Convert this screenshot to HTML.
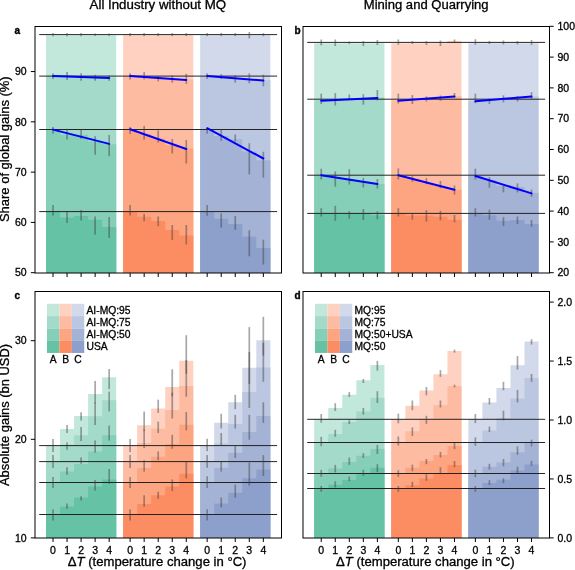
<!DOCTYPE html>
<html><head><meta charset="utf-8"><style>
html,body{margin:0;padding:0;background:#fff;}
body{width:575px;height:570px;overflow:hidden;}
svg{display:block;will-change:transform;font-family:"Liberation Sans",sans-serif;}
.tk{font-size:10.5px;fill:#000;stroke:#000;stroke-width:0.3px;}
.tt{font-size:12.5px;fill:#000;stroke:#000;stroke-width:0.3px;}
.pl{font-size:10px;font-weight:bold;fill:#000;stroke:#000;stroke-width:0.35px;}
.lg{font-size:10.3px;fill:#000;stroke:#000;stroke-width:0.3px;}
</style></head><body>
<svg width="575" height="570" viewBox="0 0 575 570">
<rect width="575" height="570" fill="#fff"/>
<g>
<polygon fill="#c2e7db" points="46,273 46,35.3 60.04,35.3 60.04,35.3 74.08,35.3 74.08,35.3 88.12,35.3 88.12,35.3 102.16,35.3 102.16,35.3 116.2,35.3 116.2,273"/>
<polygon fill="#a3dac9" points="46,273 46,76 60.04,76 60.04,76.3 74.08,76.3 74.08,76.7 88.12,76.7 88.12,77 102.16,77 102.16,77.5 116.2,77.5 116.2,273"/>
<polygon fill="#85ceb7" points="46,273 46,129.8 60.04,129.8 60.04,134.7 74.08,134.7 74.08,134.7 88.12,134.7 88.12,141.4 102.16,141.4 102.16,144.3 116.2,144.3 116.2,273"/>
<polygon fill="#66c2a5" points="46,273 46,212 60.04,212 60.04,217.6 74.08,217.6 74.08,216.1 88.12,216.1 88.12,219.8 102.16,219.8 102.16,227 116.2,227 116.2,273"/>
<polygon fill="#fed1c0" points="123.1,273 123.1,35.3 137.14,35.3 137.14,35.3 151.18,35.3 151.18,35.3 165.22,35.3 165.22,35.3 179.26,35.3 179.26,35.3 193.3,35.3 193.3,273"/>
<polygon fill="#fdbba1" points="123.1,273 123.1,76 137.14,76 137.14,76.8 151.18,76.8 151.18,77.6 165.22,77.6 165.22,78.5 179.26,78.5 179.26,79.4 193.3,79.4 193.3,273"/>
<polygon fill="#fda481" points="123.1,273 123.1,129.6 137.14,129.6 137.14,134 151.18,134 151.18,138.5 165.22,138.5 165.22,145.3 179.26,145.3 179.26,148.7 193.3,148.7 193.3,273"/>
<polygon fill="#fc8d62" points="123.1,273 123.1,212 137.14,212 137.14,216.8 151.18,216.8 151.18,221 165.22,221 165.22,230 179.26,230 179.26,235.5 193.3,235.5 193.3,273"/>
<polygon fill="#d1d9ea" points="200.15,273 200.15,35.3 214.19,35.3 214.19,35.3 228.23,35.3 228.23,35.3 242.27,35.3 242.27,35.3 256.31,35.3 256.31,35.3 270.35,35.3 270.35,273"/>
<polygon fill="#bbc6e0" points="200.15,273 200.15,76.2 214.19,76.2 214.19,77.2 228.23,77.2 228.23,78.2 242.27,78.2 242.27,79.2 256.31,79.2 256.31,80.2 270.35,80.2 270.35,273"/>
<polygon fill="#a4b3d5" points="200.15,273 200.15,129 214.19,129 214.19,136 228.23,136 228.23,139.2 242.27,139.2 242.27,151.4 256.31,151.4 256.31,160.2 270.35,160.2 270.35,273"/>
<polygon fill="#8da0cb" points="200.15,273 200.15,212.1 214.19,212.1 214.19,218.7 228.23,218.7 228.23,224 242.27,224 242.27,236.6 256.31,236.6 256.31,248 270.35,248 270.35,273"/>
<line x1="39.2" y1="34.6" x2="277.1" y2="34.6" stroke="#1a1a1a" stroke-width="0.95"/>
<line x1="39.2" y1="76.1" x2="277.1" y2="76.1" stroke="#1a1a1a" stroke-width="0.95"/>
<line x1="39.2" y1="129.5" x2="277.1" y2="129.5" stroke="#1a1a1a" stroke-width="0.95"/>
<line x1="39.2" y1="211.6" x2="277.1" y2="211.6" stroke="#1a1a1a" stroke-width="0.95"/>
<line x1="53.02" y1="33" x2="53.02" y2="36.2" stroke="rgba(60,60,60,0.45)" stroke-width="1.7"/>
<line x1="53.02" y1="73.3" x2="53.02" y2="79" stroke="rgba(60,60,60,0.45)" stroke-width="1.7"/>
<line x1="53.02" y1="127" x2="53.02" y2="133.7" stroke="rgba(60,60,60,0.45)" stroke-width="1.7"/>
<line x1="53.02" y1="204.9" x2="53.02" y2="215.6" stroke="rgba(60,60,60,0.45)" stroke-width="1.7"/>
<line x1="67.06" y1="33" x2="67.06" y2="36.2" stroke="rgba(60,60,60,0.45)" stroke-width="1.7"/>
<line x1="67.06" y1="72.1" x2="67.06" y2="79.9" stroke="rgba(60,60,60,0.45)" stroke-width="1.7"/>
<line x1="67.06" y1="128.8" x2="67.06" y2="139.6" stroke="rgba(60,60,60,0.45)" stroke-width="1.7"/>
<line x1="67.06" y1="211.6" x2="67.06" y2="223.1" stroke="rgba(60,60,60,0.45)" stroke-width="1.7"/>
<line x1="81.1" y1="33" x2="81.1" y2="36.2" stroke="rgba(60,60,60,0.45)" stroke-width="1.7"/>
<line x1="81.1" y1="73.3" x2="81.1" y2="80.8" stroke="rgba(60,60,60,0.45)" stroke-width="1.7"/>
<line x1="81.1" y1="129.3" x2="81.1" y2="138.7" stroke="rgba(60,60,60,0.45)" stroke-width="1.7"/>
<line x1="81.1" y1="210.1" x2="81.1" y2="220.6" stroke="rgba(60,60,60,0.45)" stroke-width="1.7"/>
<line x1="95.14" y1="33.5" x2="95.14" y2="36" stroke="rgba(60,60,60,0.45)" stroke-width="1.7"/>
<line x1="95.14" y1="74.7" x2="95.14" y2="80.8" stroke="rgba(60,60,60,0.45)" stroke-width="1.7"/>
<line x1="95.14" y1="136.2" x2="95.14" y2="154.7" stroke="rgba(60,60,60,0.45)" stroke-width="1.7"/>
<line x1="95.14" y1="216.5" x2="95.14" y2="234.4" stroke="rgba(60,60,60,0.45)" stroke-width="1.7"/>
<line x1="109.18" y1="33.5" x2="109.18" y2="36" stroke="rgba(60,60,60,0.45)" stroke-width="1.7"/>
<line x1="109.18" y1="75.4" x2="109.18" y2="80.8" stroke="rgba(60,60,60,0.45)" stroke-width="1.7"/>
<line x1="109.18" y1="135" x2="109.18" y2="156.2" stroke="rgba(60,60,60,0.45)" stroke-width="1.7"/>
<line x1="109.18" y1="217.1" x2="109.18" y2="238" stroke="rgba(60,60,60,0.45)" stroke-width="1.7"/>
<line x1="130.12" y1="33" x2="130.12" y2="36.2" stroke="rgba(60,60,60,0.45)" stroke-width="1.7"/>
<line x1="130.12" y1="73.3" x2="130.12" y2="79.4" stroke="rgba(60,60,60,0.45)" stroke-width="1.7"/>
<line x1="130.12" y1="127" x2="130.12" y2="134" stroke="rgba(60,60,60,0.45)" stroke-width="1.7"/>
<line x1="130.12" y1="204.9" x2="130.12" y2="215.6" stroke="rgba(60,60,60,0.45)" stroke-width="1.7"/>
<line x1="144.16" y1="33" x2="144.16" y2="36.2" stroke="rgba(60,60,60,0.45)" stroke-width="1.7"/>
<line x1="144.16" y1="72.1" x2="144.16" y2="79.4" stroke="rgba(60,60,60,0.45)" stroke-width="1.7"/>
<line x1="144.16" y1="125.9" x2="144.16" y2="139.6" stroke="rgba(60,60,60,0.45)" stroke-width="1.7"/>
<line x1="144.16" y1="213.9" x2="144.16" y2="221.3" stroke="rgba(60,60,60,0.45)" stroke-width="1.7"/>
<line x1="158.2" y1="33" x2="158.2" y2="36.2" stroke="rgba(60,60,60,0.45)" stroke-width="1.7"/>
<line x1="158.2" y1="76" x2="158.2" y2="81.4" stroke="rgba(60,60,60,0.45)" stroke-width="1.7"/>
<line x1="158.2" y1="130.4" x2="158.2" y2="142.6" stroke="rgba(60,60,60,0.45)" stroke-width="1.7"/>
<line x1="158.2" y1="216.5" x2="158.2" y2="226.1" stroke="rgba(60,60,60,0.45)" stroke-width="1.7"/>
<line x1="172.24" y1="33" x2="172.24" y2="36.2" stroke="rgba(60,60,60,0.45)" stroke-width="1.7"/>
<line x1="172.24" y1="75.4" x2="172.24" y2="82.7" stroke="rgba(60,60,60,0.45)" stroke-width="1.7"/>
<line x1="172.24" y1="139" x2="172.24" y2="153.5" stroke="rgba(60,60,60,0.45)" stroke-width="1.7"/>
<line x1="172.24" y1="225" x2="172.24" y2="240" stroke="rgba(60,60,60,0.45)" stroke-width="1.7"/>
<line x1="186.28" y1="33" x2="186.28" y2="36.2" stroke="rgba(60,60,60,0.45)" stroke-width="1.7"/>
<line x1="186.28" y1="73.8" x2="186.28" y2="83.9" stroke="rgba(60,60,60,0.45)" stroke-width="1.7"/>
<line x1="186.28" y1="140" x2="186.28" y2="163.5" stroke="rgba(60,60,60,0.45)" stroke-width="1.7"/>
<line x1="186.28" y1="225" x2="186.28" y2="244.4" stroke="rgba(60,60,60,0.45)" stroke-width="1.7"/>
<line x1="207.17" y1="33" x2="207.17" y2="36.2" stroke="rgba(60,60,60,0.45)" stroke-width="1.7"/>
<line x1="207.17" y1="73.3" x2="207.17" y2="79" stroke="rgba(60,60,60,0.45)" stroke-width="1.7"/>
<line x1="207.17" y1="128.2" x2="207.17" y2="133.7" stroke="rgba(60,60,60,0.45)" stroke-width="1.7"/>
<line x1="207.17" y1="205" x2="207.17" y2="215.7" stroke="rgba(60,60,60,0.45)" stroke-width="1.7"/>
<line x1="221.21" y1="33" x2="221.21" y2="36.2" stroke="rgba(60,60,60,0.45)" stroke-width="1.7"/>
<line x1="221.21" y1="74.1" x2="221.21" y2="79" stroke="rgba(60,60,60,0.45)" stroke-width="1.7"/>
<line x1="221.21" y1="129.7" x2="221.21" y2="140.8" stroke="rgba(60,60,60,0.45)" stroke-width="1.7"/>
<line x1="221.21" y1="213.4" x2="221.21" y2="227.6" stroke="rgba(60,60,60,0.45)" stroke-width="1.7"/>
<line x1="235.25" y1="33" x2="235.25" y2="36.2" stroke="rgba(60,60,60,0.45)" stroke-width="1.7"/>
<line x1="235.25" y1="75.4" x2="235.25" y2="82.7" stroke="rgba(60,60,60,0.45)" stroke-width="1.7"/>
<line x1="235.25" y1="134.5" x2="235.25" y2="141.6" stroke="rgba(60,60,60,0.45)" stroke-width="1.7"/>
<line x1="235.25" y1="216" x2="235.25" y2="229.8" stroke="rgba(60,60,60,0.45)" stroke-width="1.7"/>
<line x1="249.29" y1="32" x2="249.29" y2="38.4" stroke="rgba(60,60,60,0.45)" stroke-width="1.7"/>
<line x1="249.29" y1="73.3" x2="249.29" y2="83.3" stroke="rgba(60,60,60,0.45)" stroke-width="1.7"/>
<line x1="249.29" y1="143.2" x2="249.29" y2="174.4" stroke="rgba(60,60,60,0.45)" stroke-width="1.7"/>
<line x1="249.29" y1="230.3" x2="249.29" y2="256.3" stroke="rgba(60,60,60,0.45)" stroke-width="1.7"/>
<line x1="263.33" y1="33" x2="263.33" y2="36.2" stroke="rgba(60,60,60,0.45)" stroke-width="1.7"/>
<line x1="263.33" y1="74.7" x2="263.33" y2="86.3" stroke="rgba(60,60,60,0.45)" stroke-width="1.7"/>
<line x1="263.33" y1="151.8" x2="263.33" y2="177.6" stroke="rgba(60,60,60,0.45)" stroke-width="1.7"/>
<line x1="263.33" y1="239.7" x2="263.33" y2="264.5" stroke="rgba(60,60,60,0.45)" stroke-width="1.7"/>
<line x1="53.02" y1="76" x2="109.18" y2="77.9" stroke="#0000ff" stroke-width="2.0" stroke-linecap="round"/>
<line x1="53.02" y1="129.6" x2="109.18" y2="143.9" stroke="#0000ff" stroke-width="2.0" stroke-linecap="round"/>
<line x1="130.12" y1="76" x2="186.28" y2="79.9" stroke="#0000ff" stroke-width="2.0" stroke-linecap="round"/>
<line x1="130.12" y1="129.2" x2="186.28" y2="149" stroke="#0000ff" stroke-width="2.0" stroke-linecap="round"/>
<line x1="207.17" y1="76" x2="263.33" y2="80.6" stroke="#0000ff" stroke-width="2.0" stroke-linecap="round"/>
<line x1="207.17" y1="128.2" x2="263.33" y2="158.5" stroke="#0000ff" stroke-width="2.0" stroke-linecap="round"/>
<rect x="35" y="26.5" width="246.5" height="246.5" fill="none" stroke="#000" stroke-width="1"/>
<line x1="53.02" y1="273" x2="53.02" y2="277" stroke="#000" stroke-width="1"/>
<line x1="67.06" y1="273" x2="67.06" y2="277" stroke="#000" stroke-width="1"/>
<line x1="81.1" y1="273" x2="81.1" y2="277" stroke="#000" stroke-width="1"/>
<line x1="95.14" y1="273" x2="95.14" y2="277" stroke="#000" stroke-width="1"/>
<line x1="109.18" y1="273" x2="109.18" y2="277" stroke="#000" stroke-width="1"/>
<line x1="130.12" y1="273" x2="130.12" y2="277" stroke="#000" stroke-width="1"/>
<line x1="144.16" y1="273" x2="144.16" y2="277" stroke="#000" stroke-width="1"/>
<line x1="158.2" y1="273" x2="158.2" y2="277" stroke="#000" stroke-width="1"/>
<line x1="172.24" y1="273" x2="172.24" y2="277" stroke="#000" stroke-width="1"/>
<line x1="186.28" y1="273" x2="186.28" y2="277" stroke="#000" stroke-width="1"/>
<line x1="207.17" y1="273" x2="207.17" y2="277" stroke="#000" stroke-width="1"/>
<line x1="221.21" y1="273" x2="221.21" y2="277" stroke="#000" stroke-width="1"/>
<line x1="235.25" y1="273" x2="235.25" y2="277" stroke="#000" stroke-width="1"/>
<line x1="249.29" y1="273" x2="249.29" y2="277" stroke="#000" stroke-width="1"/>
<line x1="263.33" y1="273" x2="263.33" y2="277" stroke="#000" stroke-width="1"/>
</g>
<g>
<polygon fill="#c2e7db" points="314.2,273 314.2,43.2 328.24,43.2 328.24,43.2 342.28,43.2 342.28,43.2 356.32,43.2 356.32,43.2 370.36,43.2 370.36,43.2 384.4,43.2 384.4,273"/>
<polygon fill="#a3dac9" points="314.2,273 314.2,100 328.24,100 328.24,99.4 342.28,99.4 342.28,98.8 356.32,98.8 356.32,98.2 370.36,98.2 370.36,97.6 384.4,97.6 384.4,273"/>
<polygon fill="#85ceb7" points="314.2,273 314.2,175.2 328.24,175.2 328.24,177.4 342.28,177.4 342.28,179.5 356.32,179.5 356.32,181.7 370.36,181.7 370.36,183.9 384.4,183.9 384.4,273"/>
<polygon fill="#66c2a5" points="314.2,273 314.2,213.4 328.24,213.4 328.24,213.4 342.28,213.4 342.28,213.4 356.32,213.4 356.32,213.4 370.36,213.4 370.36,215.3 384.4,215.3 384.4,273"/>
<polygon fill="#fed1c0" points="391.3,273 391.3,43.2 405.34,43.2 405.34,43.2 419.38,43.2 419.38,43.2 433.42,43.2 433.42,43.2 447.46,43.2 447.46,41.1 461.5,41.1 461.5,273"/>
<polygon fill="#fdbba1" points="391.3,273 391.3,100.5 405.34,100.5 405.34,99.4 419.38,99.4 419.38,98.2 433.42,98.2 433.42,97.1 447.46,97.1 447.46,96 461.5,96 461.5,273"/>
<polygon fill="#fda481" points="391.3,273 391.3,175.2 405.34,175.2 405.34,178.8 419.38,178.8 419.38,182.4 433.42,182.4 433.42,186.1 447.46,186.1 447.46,189.7 461.5,189.7 461.5,273"/>
<polygon fill="#fc8d62" points="391.3,273 391.3,213.4 405.34,213.4 405.34,215.6 419.38,215.6 419.38,215.6 433.42,215.6 433.42,216.8 447.46,216.8 447.46,219.7 461.5,219.7 461.5,273"/>
<polygon fill="#d1d9ea" points="468.35,273 468.35,43.2 482.39,43.2 482.39,43.2 496.43,43.2 496.43,43.2 510.47,43.2 510.47,43.2 524.51,43.2 524.51,43.2 538.55,43.2 538.55,273"/>
<polygon fill="#bbc6e0" points="468.35,273 468.35,100.8 482.39,100.8 482.39,99.7 496.43,99.7 496.43,98.7 510.47,98.7 510.47,97.6 524.51,97.6 524.51,96.5 538.55,96.5 538.55,273"/>
<polygon fill="#a4b3d5" points="468.35,273 468.35,176 482.39,176 482.39,180 496.43,180 496.43,185.8 510.47,185.8 510.47,187 524.51,187 524.51,192.9 538.55,192.9 538.55,273"/>
<polygon fill="#8da0cb" points="468.35,273 468.35,213.4 482.39,213.4 482.39,215.3 496.43,215.3 496.43,220.8 510.47,220.8 510.47,220 524.51,220 524.51,224 538.55,224 538.55,273"/>
<line x1="307.2" y1="42.4" x2="545.1" y2="42.4" stroke="#1a1a1a" stroke-width="0.95"/>
<line x1="307.2" y1="99.2" x2="545.1" y2="99.2" stroke="#1a1a1a" stroke-width="0.95"/>
<line x1="307.2" y1="175.2" x2="545.1" y2="175.2" stroke="#1a1a1a" stroke-width="0.95"/>
<line x1="307.2" y1="213.4" x2="545.1" y2="213.4" stroke="#1a1a1a" stroke-width="0.95"/>
<line x1="321.22" y1="39.5" x2="321.22" y2="45.2" stroke="rgba(60,60,60,0.45)" stroke-width="1.7"/>
<line x1="321.22" y1="93.7" x2="321.22" y2="104" stroke="rgba(60,60,60,0.45)" stroke-width="1.7"/>
<line x1="321.22" y1="168.7" x2="321.22" y2="179.5" stroke="rgba(60,60,60,0.45)" stroke-width="1.7"/>
<line x1="321.22" y1="208.2" x2="321.22" y2="216.5" stroke="rgba(60,60,60,0.45)" stroke-width="1.7"/>
<line x1="335.26" y1="39.5" x2="335.26" y2="46" stroke="rgba(60,60,60,0.45)" stroke-width="1.7"/>
<line x1="335.26" y1="93.2" x2="335.26" y2="105.5" stroke="rgba(60,60,60,0.45)" stroke-width="1.7"/>
<line x1="335.26" y1="171.3" x2="335.26" y2="186.6" stroke="rgba(60,60,60,0.45)" stroke-width="1.7"/>
<line x1="335.26" y1="205.8" x2="335.26" y2="220.8" stroke="rgba(60,60,60,0.45)" stroke-width="1.7"/>
<line x1="349.3" y1="41.5" x2="349.3" y2="44" stroke="rgba(60,60,60,0.45)" stroke-width="1.7"/>
<line x1="349.3" y1="94.5" x2="349.3" y2="100" stroke="rgba(60,60,60,0.45)" stroke-width="1.7"/>
<line x1="349.3" y1="169.2" x2="349.3" y2="184.5" stroke="rgba(60,60,60,0.45)" stroke-width="1.7"/>
<line x1="349.3" y1="211.3" x2="349.3" y2="218.7" stroke="rgba(60,60,60,0.45)" stroke-width="1.7"/>
<line x1="363.34" y1="41" x2="363.34" y2="46" stroke="rgba(60,60,60,0.45)" stroke-width="1.7"/>
<line x1="363.34" y1="94.2" x2="363.34" y2="104.7" stroke="rgba(60,60,60,0.45)" stroke-width="1.7"/>
<line x1="363.34" y1="177.9" x2="363.34" y2="187.4" stroke="rgba(60,60,60,0.45)" stroke-width="1.7"/>
<line x1="363.34" y1="209" x2="363.34" y2="220" stroke="rgba(60,60,60,0.45)" stroke-width="1.7"/>
<line x1="377.38" y1="40" x2="377.38" y2="45" stroke="rgba(60,60,60,0.45)" stroke-width="1.7"/>
<line x1="377.38" y1="90" x2="377.38" y2="100.5" stroke="rgba(60,60,60,0.45)" stroke-width="1.7"/>
<line x1="377.38" y1="179" x2="377.38" y2="188.6" stroke="rgba(60,60,60,0.45)" stroke-width="1.7"/>
<line x1="377.38" y1="211.3" x2="377.38" y2="219.2" stroke="rgba(60,60,60,0.45)" stroke-width="1.7"/>
<line x1="398.32" y1="39.5" x2="398.32" y2="44.7" stroke="rgba(60,60,60,0.45)" stroke-width="1.7"/>
<line x1="398.32" y1="93.7" x2="398.32" y2="103.6" stroke="rgba(60,60,60,0.45)" stroke-width="1.7"/>
<line x1="398.32" y1="168.4" x2="398.32" y2="179.5" stroke="rgba(60,60,60,0.45)" stroke-width="1.7"/>
<line x1="398.32" y1="208.2" x2="398.32" y2="216.5" stroke="rgba(60,60,60,0.45)" stroke-width="1.7"/>
<line x1="412.36" y1="41" x2="412.36" y2="44" stroke="rgba(60,60,60,0.45)" stroke-width="1.7"/>
<line x1="412.36" y1="95" x2="412.36" y2="104" stroke="rgba(60,60,60,0.45)" stroke-width="1.7"/>
<line x1="412.36" y1="176.3" x2="412.36" y2="181.8" stroke="rgba(60,60,60,0.45)" stroke-width="1.7"/>
<line x1="412.36" y1="213.4" x2="412.36" y2="219.7" stroke="rgba(60,60,60,0.45)" stroke-width="1.7"/>
<line x1="426.4" y1="41" x2="426.4" y2="45" stroke="rgba(60,60,60,0.45)" stroke-width="1.7"/>
<line x1="426.4" y1="96.4" x2="426.4" y2="101.5" stroke="rgba(60,60,60,0.45)" stroke-width="1.7"/>
<line x1="426.4" y1="178.2" x2="426.4" y2="184.2" stroke="rgba(60,60,60,0.45)" stroke-width="1.7"/>
<line x1="426.4" y1="210.2" x2="426.4" y2="221.6" stroke="rgba(60,60,60,0.45)" stroke-width="1.7"/>
<line x1="440.44" y1="40.5" x2="440.44" y2="46" stroke="rgba(60,60,60,0.45)" stroke-width="1.7"/>
<line x1="440.44" y1="95.5" x2="440.44" y2="100.8" stroke="rgba(60,60,60,0.45)" stroke-width="1.7"/>
<line x1="440.44" y1="181" x2="440.44" y2="188.2" stroke="rgba(60,60,60,0.45)" stroke-width="1.7"/>
<line x1="440.44" y1="210.8" x2="440.44" y2="220.3" stroke="rgba(60,60,60,0.45)" stroke-width="1.7"/>
<line x1="454.48" y1="39.5" x2="454.48" y2="43" stroke="rgba(60,60,60,0.45)" stroke-width="1.7"/>
<line x1="454.48" y1="93" x2="454.48" y2="98" stroke="rgba(60,60,60,0.45)" stroke-width="1.7"/>
<line x1="454.48" y1="185.5" x2="454.48" y2="194.5" stroke="rgba(60,60,60,0.45)" stroke-width="1.7"/>
<line x1="454.48" y1="215" x2="454.48" y2="222.4" stroke="rgba(60,60,60,0.45)" stroke-width="1.7"/>
<line x1="475.37" y1="39.2" x2="475.37" y2="44.7" stroke="rgba(60,60,60,0.45)" stroke-width="1.7"/>
<line x1="475.37" y1="93.7" x2="475.37" y2="103.2" stroke="rgba(60,60,60,0.45)" stroke-width="1.7"/>
<line x1="475.37" y1="168.7" x2="475.37" y2="179.5" stroke="rgba(60,60,60,0.45)" stroke-width="1.7"/>
<line x1="475.37" y1="208.2" x2="475.37" y2="216.5" stroke="rgba(60,60,60,0.45)" stroke-width="1.7"/>
<line x1="489.41" y1="41" x2="489.41" y2="44" stroke="rgba(60,60,60,0.45)" stroke-width="1.7"/>
<line x1="489.41" y1="98.4" x2="489.41" y2="104" stroke="rgba(60,60,60,0.45)" stroke-width="1.7"/>
<line x1="489.41" y1="177.1" x2="489.41" y2="187.7" stroke="rgba(60,60,60,0.45)" stroke-width="1.7"/>
<line x1="489.41" y1="209.7" x2="489.41" y2="219.7" stroke="rgba(60,60,60,0.45)" stroke-width="1.7"/>
<line x1="503.45" y1="40.5" x2="503.45" y2="44.5" stroke="rgba(60,60,60,0.45)" stroke-width="1.7"/>
<line x1="503.45" y1="95.3" x2="503.45" y2="102.4" stroke="rgba(60,60,60,0.45)" stroke-width="1.7"/>
<line x1="503.45" y1="185.8" x2="503.45" y2="192.4" stroke="rgba(60,60,60,0.45)" stroke-width="1.7"/>
<line x1="503.45" y1="217.2" x2="503.45" y2="226" stroke="rgba(60,60,60,0.45)" stroke-width="1.7"/>
<line x1="517.49" y1="41" x2="517.49" y2="44.5" stroke="rgba(60,60,60,0.45)" stroke-width="1.7"/>
<line x1="517.49" y1="96" x2="517.49" y2="101.6" stroke="rgba(60,60,60,0.45)" stroke-width="1.7"/>
<line x1="517.49" y1="183.4" x2="517.49" y2="192.4" stroke="rgba(60,60,60,0.45)" stroke-width="1.7"/>
<line x1="517.49" y1="216.5" x2="517.49" y2="224" stroke="rgba(60,60,60,0.45)" stroke-width="1.7"/>
<line x1="531.53" y1="40" x2="531.53" y2="45" stroke="rgba(60,60,60,0.45)" stroke-width="1.7"/>
<line x1="531.53" y1="92.1" x2="531.53" y2="99.2" stroke="rgba(60,60,60,0.45)" stroke-width="1.7"/>
<line x1="531.53" y1="189.7" x2="531.53" y2="196.8" stroke="rgba(60,60,60,0.45)" stroke-width="1.7"/>
<line x1="531.53" y1="220" x2="531.53" y2="226.6" stroke="rgba(60,60,60,0.45)" stroke-width="1.7"/>
<line x1="321.22" y1="100.8" x2="377.38" y2="98.1" stroke="#0000ff" stroke-width="2.0" stroke-linecap="round"/>
<line x1="321.22" y1="175.2" x2="377.38" y2="183.9" stroke="#0000ff" stroke-width="2.0" stroke-linecap="round"/>
<line x1="398.32" y1="100.8" x2="454.48" y2="96.4" stroke="#0000ff" stroke-width="2.0" stroke-linecap="round"/>
<line x1="398.32" y1="175.2" x2="454.48" y2="189.7" stroke="#0000ff" stroke-width="2.0" stroke-linecap="round"/>
<line x1="475.37" y1="101.3" x2="531.53" y2="96.5" stroke="#0000ff" stroke-width="2.0" stroke-linecap="round"/>
<line x1="475.37" y1="176" x2="531.53" y2="193.4" stroke="#0000ff" stroke-width="2.0" stroke-linecap="round"/>
<rect x="303" y="26.5" width="246.5" height="246.5" fill="none" stroke="#000" stroke-width="1"/>
<line x1="321.22" y1="273" x2="321.22" y2="277" stroke="#000" stroke-width="1"/>
<line x1="335.26" y1="273" x2="335.26" y2="277" stroke="#000" stroke-width="1"/>
<line x1="349.3" y1="273" x2="349.3" y2="277" stroke="#000" stroke-width="1"/>
<line x1="363.34" y1="273" x2="363.34" y2="277" stroke="#000" stroke-width="1"/>
<line x1="377.38" y1="273" x2="377.38" y2="277" stroke="#000" stroke-width="1"/>
<line x1="398.32" y1="273" x2="398.32" y2="277" stroke="#000" stroke-width="1"/>
<line x1="412.36" y1="273" x2="412.36" y2="277" stroke="#000" stroke-width="1"/>
<line x1="426.4" y1="273" x2="426.4" y2="277" stroke="#000" stroke-width="1"/>
<line x1="440.44" y1="273" x2="440.44" y2="277" stroke="#000" stroke-width="1"/>
<line x1="454.48" y1="273" x2="454.48" y2="277" stroke="#000" stroke-width="1"/>
<line x1="475.37" y1="273" x2="475.37" y2="277" stroke="#000" stroke-width="1"/>
<line x1="489.41" y1="273" x2="489.41" y2="277" stroke="#000" stroke-width="1"/>
<line x1="503.45" y1="273" x2="503.45" y2="277" stroke="#000" stroke-width="1"/>
<line x1="517.49" y1="273" x2="517.49" y2="277" stroke="#000" stroke-width="1"/>
<line x1="531.53" y1="273" x2="531.53" y2="277" stroke="#000" stroke-width="1"/>
</g>
<g>
<polygon fill="#c2e7db" points="46,538 46,445.6 60.04,445.6 60.04,428.9 74.08,428.9 74.08,416 88.12,416 88.12,394.1 102.16,394.1 102.16,377.3 116.2,377.3 116.2,538"/>
<polygon fill="#a3dac9" points="46,538 46,461.6 60.04,461.6 60.04,444.7 74.08,444.7 74.08,435.2 88.12,435.2 88.12,416.2 102.16,416.2 102.16,400.2 116.2,400.2 116.2,538"/>
<polygon fill="#85ceb7" points="46,538 46,482.5 60.04,482.5 60.04,471.4 74.08,471.4 74.08,463.9 88.12,463.9 88.12,451.6 102.16,451.6 102.16,435.3 116.2,435.3 116.2,538"/>
<polygon fill="#66c2a5" points="46,538 46,514.6 60.04,514.6 60.04,506.6 74.08,506.6 74.08,497.5 88.12,497.5 88.12,486.5 102.16,486.5 102.16,479.5 116.2,479.5 116.2,538"/>
<polygon fill="#fed1c0" points="123.1,538 123.1,445.6 137.14,445.6 137.14,425.2 151.18,425.2 151.18,408.5 165.22,408.5 165.22,387.1 179.26,387.1 179.26,360.8 193.3,360.8 193.3,538"/>
<polygon fill="#fdbba1" points="123.1,538 123.1,461.6 137.14,461.6 137.14,443 151.18,443 151.18,428.7 165.22,428.7 165.22,409.9 179.26,409.9 179.26,386 193.3,386 193.3,538"/>
<polygon fill="#fda481" points="123.1,538 123.1,482.5 137.14,482.5 137.14,468.1 151.18,468.1 151.18,456.7 165.22,456.7 165.22,444 179.26,444 179.26,424.8 193.3,424.8 193.3,538"/>
<polygon fill="#fc8d62" points="123.1,538 123.1,514.6 137.14,514.6 137.14,504.1 151.18,504.1 151.18,495.3 165.22,495.3 165.22,486.5 179.26,486.5 179.26,473.7 193.3,473.7 193.3,538"/>
<polygon fill="#d1d9ea" points="200.15,538 200.15,445.6 214.19,445.6 214.19,422.8 228.23,422.8 228.23,402.3 242.27,402.3 242.27,367.7 256.31,367.7 256.31,340.2 270.35,340.2 270.35,538"/>
<polygon fill="#bbc6e0" points="200.15,538 200.15,461.6 214.19,461.6 214.19,443.5 228.23,443.5 228.23,423.9 242.27,423.9 242.27,392 256.31,392 256.31,367.6 270.35,367.6 270.35,538"/>
<polygon fill="#a4b3d5" points="200.15,538 200.15,482.5 214.19,482.5 214.19,467.7 228.23,467.7 228.23,452.8 242.27,452.8 242.27,432.1 256.31,432.1 256.31,416 270.35,416 270.35,538"/>
<polygon fill="#8da0cb" points="200.15,538 200.15,514.6 214.19,514.6 214.19,503.4 228.23,503.4 228.23,492.8 242.27,492.8 242.27,478.3 256.31,478.3 256.31,469.6 270.35,469.6 270.35,538"/>
<line x1="39.2" y1="445.6" x2="277.1" y2="445.6" stroke="#1a1a1a" stroke-width="0.95"/>
<line x1="39.2" y1="461.6" x2="277.1" y2="461.6" stroke="#1a1a1a" stroke-width="0.95"/>
<line x1="39.2" y1="482.5" x2="277.1" y2="482.5" stroke="#1a1a1a" stroke-width="0.95"/>
<line x1="39.2" y1="514.5" x2="277.1" y2="514.5" stroke="#1a1a1a" stroke-width="0.95"/>
<line x1="53.02" y1="439" x2="53.02" y2="452" stroke="rgba(60,60,60,0.45)" stroke-width="1.7"/>
<line x1="53.02" y1="455" x2="53.02" y2="468" stroke="rgba(60,60,60,0.45)" stroke-width="1.7"/>
<line x1="53.02" y1="477" x2="53.02" y2="488" stroke="rgba(60,60,60,0.45)" stroke-width="1.7"/>
<line x1="53.02" y1="509.4" x2="53.02" y2="520.4" stroke="rgba(60,60,60,0.45)" stroke-width="1.7"/>
<line x1="67.06" y1="424.9" x2="67.06" y2="433" stroke="rgba(60,60,60,0.45)" stroke-width="1.7"/>
<line x1="67.06" y1="442.6" x2="67.06" y2="449.7" stroke="rgba(60,60,60,0.45)" stroke-width="1.7"/>
<line x1="67.06" y1="467.2" x2="67.06" y2="474.8" stroke="rgba(60,60,60,0.45)" stroke-width="1.7"/>
<line x1="67.06" y1="503.6" x2="67.06" y2="508.8" stroke="rgba(60,60,60,0.45)" stroke-width="1.7"/>
<line x1="81.1" y1="412.2" x2="81.1" y2="420.4" stroke="rgba(60,60,60,0.45)" stroke-width="1.7"/>
<line x1="81.1" y1="427" x2="81.1" y2="441" stroke="rgba(60,60,60,0.45)" stroke-width="1.7"/>
<line x1="81.1" y1="457.6" x2="81.1" y2="463.7" stroke="rgba(60,60,60,0.45)" stroke-width="1.7"/>
<line x1="81.1" y1="496.2" x2="81.1" y2="500.6" stroke="rgba(60,60,60,0.45)" stroke-width="1.7"/>
<line x1="95.14" y1="380.9" x2="95.14" y2="403.5" stroke="rgba(60,60,60,0.45)" stroke-width="1.7"/>
<line x1="95.14" y1="402.5" x2="95.14" y2="424.9" stroke="rgba(60,60,60,0.45)" stroke-width="1.7"/>
<line x1="95.14" y1="440.4" x2="95.14" y2="452.6" stroke="rgba(60,60,60,0.45)" stroke-width="1.7"/>
<line x1="95.14" y1="480" x2="95.14" y2="490.5" stroke="rgba(60,60,60,0.45)" stroke-width="1.7"/>
<line x1="109.18" y1="369" x2="109.18" y2="389.1" stroke="rgba(60,60,60,0.45)" stroke-width="1.7"/>
<line x1="109.18" y1="391.6" x2="109.18" y2="411.4" stroke="rgba(60,60,60,0.45)" stroke-width="1.7"/>
<line x1="109.18" y1="425.6" x2="109.18" y2="440.5" stroke="rgba(60,60,60,0.45)" stroke-width="1.7"/>
<line x1="109.18" y1="469" x2="109.18" y2="483.9" stroke="rgba(60,60,60,0.45)" stroke-width="1.7"/>
<line x1="130.12" y1="439" x2="130.12" y2="452" stroke="rgba(60,60,60,0.45)" stroke-width="1.7"/>
<line x1="130.12" y1="455" x2="130.12" y2="468" stroke="rgba(60,60,60,0.45)" stroke-width="1.7"/>
<line x1="130.12" y1="477" x2="130.12" y2="488" stroke="rgba(60,60,60,0.45)" stroke-width="1.7"/>
<line x1="130.12" y1="509.4" x2="130.12" y2="520.4" stroke="rgba(60,60,60,0.45)" stroke-width="1.7"/>
<line x1="144.16" y1="411.6" x2="144.16" y2="431" stroke="rgba(60,60,60,0.45)" stroke-width="1.7"/>
<line x1="144.16" y1="429.5" x2="144.16" y2="448" stroke="rgba(60,60,60,0.45)" stroke-width="1.7"/>
<line x1="144.16" y1="460.2" x2="144.16" y2="471.6" stroke="rgba(60,60,60,0.45)" stroke-width="1.7"/>
<line x1="144.16" y1="495.3" x2="144.16" y2="506.7" stroke="rgba(60,60,60,0.45)" stroke-width="1.7"/>
<line x1="158.2" y1="399.7" x2="158.2" y2="412.9" stroke="rgba(60,60,60,0.45)" stroke-width="1.7"/>
<line x1="158.2" y1="421.7" x2="158.2" y2="433.1" stroke="rgba(60,60,60,0.45)" stroke-width="1.7"/>
<line x1="158.2" y1="451.4" x2="158.2" y2="460.2" stroke="rgba(60,60,60,0.45)" stroke-width="1.7"/>
<line x1="158.2" y1="491.8" x2="158.2" y2="498.8" stroke="rgba(60,60,60,0.45)" stroke-width="1.7"/>
<line x1="172.24" y1="369.3" x2="172.24" y2="396.2" stroke="rgba(60,60,60,0.45)" stroke-width="1.7"/>
<line x1="172.24" y1="392.6" x2="172.24" y2="418.5" stroke="rgba(60,60,60,0.45)" stroke-width="1.7"/>
<line x1="172.24" y1="434.8" x2="172.24" y2="448.8" stroke="rgba(60,60,60,0.45)" stroke-width="1.7"/>
<line x1="172.24" y1="479.5" x2="172.24" y2="491" stroke="rgba(60,60,60,0.45)" stroke-width="1.7"/>
<line x1="186.28" y1="335.2" x2="186.28" y2="373.7" stroke="rgba(60,60,60,0.45)" stroke-width="1.7"/>
<line x1="186.28" y1="360" x2="186.28" y2="396.8" stroke="rgba(60,60,60,0.45)" stroke-width="1.7"/>
<line x1="186.28" y1="412" x2="186.28" y2="430.4" stroke="rgba(60,60,60,0.45)" stroke-width="1.7"/>
<line x1="186.28" y1="462" x2="186.28" y2="478.3" stroke="rgba(60,60,60,0.45)" stroke-width="1.7"/>
<line x1="207.17" y1="438.7" x2="207.17" y2="451.2" stroke="rgba(60,60,60,0.45)" stroke-width="1.7"/>
<line x1="207.17" y1="455.1" x2="207.17" y2="467.7" stroke="rgba(60,60,60,0.45)" stroke-width="1.7"/>
<line x1="207.17" y1="476.3" x2="207.17" y2="487.9" stroke="rgba(60,60,60,0.45)" stroke-width="1.7"/>
<line x1="207.17" y1="509.2" x2="207.17" y2="520.4" stroke="rgba(60,60,60,0.45)" stroke-width="1.7"/>
<line x1="221.21" y1="413.7" x2="221.21" y2="428.5" stroke="rgba(60,60,60,0.45)" stroke-width="1.7"/>
<line x1="221.21" y1="433" x2="221.21" y2="445.5" stroke="rgba(60,60,60,0.45)" stroke-width="1.7"/>
<line x1="221.21" y1="461.9" x2="221.21" y2="471.5" stroke="rgba(60,60,60,0.45)" stroke-width="1.7"/>
<line x1="221.21" y1="497.6" x2="221.21" y2="507.3" stroke="rgba(60,60,60,0.45)" stroke-width="1.7"/>
<line x1="235.25" y1="394.8" x2="235.25" y2="409.1" stroke="rgba(60,60,60,0.45)" stroke-width="1.7"/>
<line x1="235.25" y1="414.8" x2="235.25" y2="428.5" stroke="rgba(60,60,60,0.45)" stroke-width="1.7"/>
<line x1="235.25" y1="445.5" x2="235.25" y2="458" stroke="rgba(60,60,60,0.45)" stroke-width="1.7"/>
<line x1="235.25" y1="484.5" x2="235.25" y2="497.6" stroke="rgba(60,60,60,0.45)" stroke-width="1.7"/>
<line x1="249.29" y1="327.1" x2="249.29" y2="384" stroke="rgba(60,60,60,0.45)" stroke-width="1.7"/>
<line x1="249.29" y1="352" x2="249.29" y2="408" stroke="rgba(60,60,60,0.45)" stroke-width="1.7"/>
<line x1="249.29" y1="414.8" x2="249.29" y2="439.7" stroke="rgba(60,60,60,0.45)" stroke-width="1.7"/>
<line x1="249.29" y1="462.4" x2="249.29" y2="485.6" stroke="rgba(60,60,60,0.45)" stroke-width="1.7"/>
<line x1="263.33" y1="316.8" x2="263.33" y2="355.6" stroke="rgba(60,60,60,0.45)" stroke-width="1.7"/>
<line x1="263.33" y1="343" x2="263.33" y2="381.8" stroke="rgba(60,60,60,0.45)" stroke-width="1.7"/>
<line x1="263.33" y1="402.3" x2="263.33" y2="422.8" stroke="rgba(60,60,60,0.45)" stroke-width="1.7"/>
<line x1="263.33" y1="455.1" x2="263.33" y2="476" stroke="rgba(60,60,60,0.45)" stroke-width="1.7"/>
<rect x="35" y="291.5" width="246.5" height="246.5" fill="none" stroke="#000" stroke-width="1"/>
<line x1="53.02" y1="538" x2="53.02" y2="542" stroke="#000" stroke-width="1"/>
<line x1="67.06" y1="538" x2="67.06" y2="542" stroke="#000" stroke-width="1"/>
<line x1="81.1" y1="538" x2="81.1" y2="542" stroke="#000" stroke-width="1"/>
<line x1="95.14" y1="538" x2="95.14" y2="542" stroke="#000" stroke-width="1"/>
<line x1="109.18" y1="538" x2="109.18" y2="542" stroke="#000" stroke-width="1"/>
<line x1="130.12" y1="538" x2="130.12" y2="542" stroke="#000" stroke-width="1"/>
<line x1="144.16" y1="538" x2="144.16" y2="542" stroke="#000" stroke-width="1"/>
<line x1="158.2" y1="538" x2="158.2" y2="542" stroke="#000" stroke-width="1"/>
<line x1="172.24" y1="538" x2="172.24" y2="542" stroke="#000" stroke-width="1"/>
<line x1="186.28" y1="538" x2="186.28" y2="542" stroke="#000" stroke-width="1"/>
<line x1="207.17" y1="538" x2="207.17" y2="542" stroke="#000" stroke-width="1"/>
<line x1="221.21" y1="538" x2="221.21" y2="542" stroke="#000" stroke-width="1"/>
<line x1="235.25" y1="538" x2="235.25" y2="542" stroke="#000" stroke-width="1"/>
<line x1="249.29" y1="538" x2="249.29" y2="542" stroke="#000" stroke-width="1"/>
<line x1="263.33" y1="538" x2="263.33" y2="542" stroke="#000" stroke-width="1"/>
</g>
<g>
<polygon fill="#c2e7db" points="314.2,538 314.2,419.3 328.24,419.3 328.24,407.9 342.28,407.9 342.28,394.7 356.32,394.7 356.32,380.2 370.36,380.2 370.36,364.9 384.4,364.9 384.4,538"/>
<polygon fill="#a3dac9" points="314.2,538 314.2,442.5 328.24,442.5 328.24,433.9 342.28,433.9 342.28,421.9 356.32,421.9 356.32,411.4 370.36,411.4 370.36,397.7 384.4,397.7 384.4,538"/>
<polygon fill="#85ceb7" points="314.2,538 314.2,473.3 328.24,473.3 328.24,468.4 342.28,468.4 342.28,461.9 356.32,461.9 356.32,455.8 370.36,455.8 370.36,449.1 384.4,449.1 384.4,538"/>
<polygon fill="#66c2a5" points="314.2,538 314.2,488.2 328.24,488.2 328.24,484.7 342.28,484.7 342.28,480 356.32,480 356.32,473.8 370.36,473.8 370.36,467.7 384.4,467.7 384.4,538"/>
<polygon fill="#fed1c0" points="391.3,538 391.3,419.3 405.34,419.3 405.34,405.8 419.38,405.8 419.38,390.4 433.42,390.4 433.42,374.2 447.46,374.2 447.46,351.1 461.5,351.1 461.5,538"/>
<polygon fill="#fdbba1" points="391.3,538 391.3,442.5 405.34,442.5 405.34,431.2 419.38,431.2 419.38,419.8 433.42,419.8 433.42,404.9 447.46,404.9 447.46,386 461.5,386 461.5,538"/>
<polygon fill="#fda481" points="391.3,538 391.3,473.3 405.34,473.3 405.34,467.7 419.38,467.7 419.38,461 433.42,461 433.42,454.9 447.46,454.9 447.46,446.1 461.5,446.1 461.5,538"/>
<polygon fill="#fc8d62" points="391.3,538 391.3,488.2 405.34,488.2 405.34,485.3 419.38,485.3 419.38,478.6 433.42,478.6 433.42,473.3 447.46,473.3 447.46,464.9 461.5,464.9 461.5,538"/>
<polygon fill="#d1d9ea" points="468.35,538 468.35,419.3 482.39,419.3 482.39,402.4 496.43,402.4 496.43,387.9 510.47,387.9 510.47,365.3 524.51,365.3 524.51,341.6 538.55,341.6 538.55,538"/>
<polygon fill="#bbc6e0" points="468.35,538 468.35,442.5 482.39,442.5 482.39,430.4 496.43,430.4 496.43,417.9 510.47,417.9 510.47,398.6 524.51,398.6 524.51,377.9 538.55,377.9 538.55,538"/>
<polygon fill="#a4b3d5" points="468.35,538 468.35,473.3 482.39,473.3 482.39,466.7 496.43,466.7 496.43,462.4 510.47,462.4 510.47,452.2 524.51,452.2 524.51,443.1 538.55,443.1 538.55,538"/>
<polygon fill="#8da0cb" points="468.35,538 468.35,488.2 482.39,488.2 482.39,483.1 496.43,483.1 496.43,479.8 510.47,479.8 510.47,470.6 524.51,470.6 524.51,464.4 538.55,464.4 538.55,538"/>
<line x1="307.2" y1="419.3" x2="545.1" y2="419.3" stroke="#1a1a1a" stroke-width="0.95"/>
<line x1="307.2" y1="442.5" x2="545.1" y2="442.5" stroke="#1a1a1a" stroke-width="0.95"/>
<line x1="307.2" y1="473.5" x2="545.1" y2="473.5" stroke="#1a1a1a" stroke-width="0.95"/>
<line x1="307.2" y1="488.5" x2="545.1" y2="488.5" stroke="#1a1a1a" stroke-width="0.95"/>
<line x1="321.22" y1="414" x2="321.22" y2="422.8" stroke="rgba(60,60,60,0.45)" stroke-width="1.7"/>
<line x1="321.22" y1="436.8" x2="321.22" y2="446.1" stroke="rgba(60,60,60,0.45)" stroke-width="1.7"/>
<line x1="321.22" y1="469.8" x2="321.22" y2="476.8" stroke="rgba(60,60,60,0.45)" stroke-width="1.7"/>
<line x1="321.22" y1="486" x2="321.22" y2="491.8" stroke="rgba(60,60,60,0.45)" stroke-width="1.7"/>
<line x1="335.26" y1="403.2" x2="335.26" y2="411" stroke="rgba(60,60,60,0.45)" stroke-width="1.7"/>
<line x1="335.26" y1="429.8" x2="335.26" y2="436.8" stroke="rgba(60,60,60,0.45)" stroke-width="1.7"/>
<line x1="335.26" y1="464.9" x2="335.26" y2="472.5" stroke="rgba(60,60,60,0.45)" stroke-width="1.7"/>
<line x1="335.26" y1="481.2" x2="335.26" y2="487.4" stroke="rgba(60,60,60,0.45)" stroke-width="1.7"/>
<line x1="349.3" y1="392.1" x2="349.3" y2="397" stroke="rgba(60,60,60,0.45)" stroke-width="1.7"/>
<line x1="349.3" y1="420.2" x2="349.3" y2="424" stroke="rgba(60,60,60,0.45)" stroke-width="1.7"/>
<line x1="349.3" y1="457.5" x2="349.3" y2="464.9" stroke="rgba(60,60,60,0.45)" stroke-width="1.7"/>
<line x1="349.3" y1="476.5" x2="349.3" y2="481.2" stroke="rgba(60,60,60,0.45)" stroke-width="1.7"/>
<line x1="363.34" y1="379" x2="363.34" y2="383" stroke="rgba(60,60,60,0.45)" stroke-width="1.7"/>
<line x1="363.34" y1="407.9" x2="363.34" y2="414.6" stroke="rgba(60,60,60,0.45)" stroke-width="1.7"/>
<line x1="363.34" y1="453.2" x2="363.34" y2="457.9" stroke="rgba(60,60,60,0.45)" stroke-width="1.7"/>
<line x1="363.34" y1="469.8" x2="363.34" y2="476" stroke="rgba(60,60,60,0.45)" stroke-width="1.7"/>
<line x1="377.38" y1="360.9" x2="377.38" y2="370.7" stroke="rgba(60,60,60,0.45)" stroke-width="1.7"/>
<line x1="377.38" y1="391.2" x2="377.38" y2="403" stroke="rgba(60,60,60,0.45)" stroke-width="1.7"/>
<line x1="377.38" y1="444.9" x2="377.38" y2="454" stroke="rgba(60,60,60,0.45)" stroke-width="1.7"/>
<line x1="377.38" y1="464.2" x2="377.38" y2="471.9" stroke="rgba(60,60,60,0.45)" stroke-width="1.7"/>
<line x1="398.32" y1="413.7" x2="398.32" y2="423.3" stroke="rgba(60,60,60,0.45)" stroke-width="1.7"/>
<line x1="398.32" y1="436.5" x2="398.32" y2="445.6" stroke="rgba(60,60,60,0.45)" stroke-width="1.7"/>
<line x1="398.32" y1="470.2" x2="398.32" y2="476.8" stroke="rgba(60,60,60,0.45)" stroke-width="1.7"/>
<line x1="398.32" y1="486" x2="398.32" y2="491.8" stroke="rgba(60,60,60,0.45)" stroke-width="1.7"/>
<line x1="412.36" y1="400.5" x2="412.36" y2="410.2" stroke="rgba(60,60,60,0.45)" stroke-width="1.7"/>
<line x1="412.36" y1="427.4" x2="412.36" y2="436.1" stroke="rgba(60,60,60,0.45)" stroke-width="1.7"/>
<line x1="412.36" y1="464.6" x2="412.36" y2="471.2" stroke="rgba(60,60,60,0.45)" stroke-width="1.7"/>
<line x1="412.36" y1="481.8" x2="412.36" y2="487" stroke="rgba(60,60,60,0.45)" stroke-width="1.7"/>
<line x1="426.4" y1="387" x2="426.4" y2="395.3" stroke="rgba(60,60,60,0.45)" stroke-width="1.7"/>
<line x1="426.4" y1="415.8" x2="426.4" y2="423.9" stroke="rgba(60,60,60,0.45)" stroke-width="1.7"/>
<line x1="426.4" y1="459" x2="426.4" y2="464.2" stroke="rgba(60,60,60,0.45)" stroke-width="1.7"/>
<line x1="426.4" y1="474.2" x2="426.4" y2="480.7" stroke="rgba(60,60,60,0.45)" stroke-width="1.7"/>
<line x1="440.44" y1="370.2" x2="440.44" y2="376.8" stroke="rgba(60,60,60,0.45)" stroke-width="1.7"/>
<line x1="440.44" y1="400.5" x2="440.44" y2="407.5" stroke="rgba(60,60,60,0.45)" stroke-width="1.7"/>
<line x1="440.44" y1="452" x2="440.44" y2="457.5" stroke="rgba(60,60,60,0.45)" stroke-width="1.7"/>
<line x1="440.44" y1="467.2" x2="440.44" y2="474.2" stroke="rgba(60,60,60,0.45)" stroke-width="1.7"/>
<line x1="454.48" y1="349.6" x2="454.48" y2="352.6" stroke="rgba(60,60,60,0.45)" stroke-width="1.7"/>
<line x1="454.48" y1="384.7" x2="454.48" y2="387.4" stroke="rgba(60,60,60,0.45)" stroke-width="1.7"/>
<line x1="454.48" y1="442.6" x2="454.48" y2="449.1" stroke="rgba(60,60,60,0.45)" stroke-width="1.7"/>
<line x1="454.48" y1="461" x2="454.48" y2="467.2" stroke="rgba(60,60,60,0.45)" stroke-width="1.7"/>
<line x1="475.37" y1="414" x2="475.37" y2="423.1" stroke="rgba(60,60,60,0.45)" stroke-width="1.7"/>
<line x1="475.37" y1="437.3" x2="475.37" y2="445.8" stroke="rgba(60,60,60,0.45)" stroke-width="1.7"/>
<line x1="475.37" y1="469.6" x2="475.37" y2="477.3" stroke="rgba(60,60,60,0.45)" stroke-width="1.7"/>
<line x1="475.37" y1="486" x2="475.37" y2="491.8" stroke="rgba(60,60,60,0.45)" stroke-width="1.7"/>
<line x1="489.41" y1="398" x2="489.41" y2="404.4" stroke="rgba(60,60,60,0.45)" stroke-width="1.7"/>
<line x1="489.41" y1="426.6" x2="489.41" y2="432" stroke="rgba(60,60,60,0.45)" stroke-width="1.7"/>
<line x1="489.41" y1="463.8" x2="489.41" y2="469.6" stroke="rgba(60,60,60,0.45)" stroke-width="1.7"/>
<line x1="489.41" y1="480.2" x2="489.41" y2="485" stroke="rgba(60,60,60,0.45)" stroke-width="1.7"/>
<line x1="503.45" y1="381.8" x2="503.45" y2="390.3" stroke="rgba(60,60,60,0.45)" stroke-width="1.7"/>
<line x1="503.45" y1="410.7" x2="503.45" y2="420.4" stroke="rgba(60,60,60,0.45)" stroke-width="1.7"/>
<line x1="503.45" y1="459" x2="503.45" y2="466.3" stroke="rgba(60,60,60,0.45)" stroke-width="1.7"/>
<line x1="503.45" y1="478.3" x2="503.45" y2="483.1" stroke="rgba(60,60,60,0.45)" stroke-width="1.7"/>
<line x1="517.49" y1="356.1" x2="517.49" y2="369.6" stroke="rgba(60,60,60,0.45)" stroke-width="1.7"/>
<line x1="517.49" y1="389.9" x2="517.49" y2="402.4" stroke="rgba(60,60,60,0.45)" stroke-width="1.7"/>
<line x1="517.49" y1="446.4" x2="517.49" y2="454.7" stroke="rgba(60,60,60,0.45)" stroke-width="1.7"/>
<line x1="517.49" y1="466.7" x2="517.49" y2="472.9" stroke="rgba(60,60,60,0.45)" stroke-width="1.7"/>
<line x1="531.53" y1="339.3" x2="531.53" y2="344.5" stroke="rgba(60,60,60,0.45)" stroke-width="1.7"/>
<line x1="531.53" y1="374" x2="531.53" y2="381.8" stroke="rgba(60,60,60,0.45)" stroke-width="1.7"/>
<line x1="531.53" y1="439.7" x2="531.53" y2="446.4" stroke="rgba(60,60,60,0.45)" stroke-width="1.7"/>
<line x1="531.53" y1="460.9" x2="531.53" y2="465.7" stroke="rgba(60,60,60,0.45)" stroke-width="1.7"/>
<rect x="303" y="291.5" width="246.5" height="246.5" fill="none" stroke="#000" stroke-width="1"/>
<line x1="321.22" y1="538" x2="321.22" y2="542" stroke="#000" stroke-width="1"/>
<line x1="335.26" y1="538" x2="335.26" y2="542" stroke="#000" stroke-width="1"/>
<line x1="349.3" y1="538" x2="349.3" y2="542" stroke="#000" stroke-width="1"/>
<line x1="363.34" y1="538" x2="363.34" y2="542" stroke="#000" stroke-width="1"/>
<line x1="377.38" y1="538" x2="377.38" y2="542" stroke="#000" stroke-width="1"/>
<line x1="398.32" y1="538" x2="398.32" y2="542" stroke="#000" stroke-width="1"/>
<line x1="412.36" y1="538" x2="412.36" y2="542" stroke="#000" stroke-width="1"/>
<line x1="426.4" y1="538" x2="426.4" y2="542" stroke="#000" stroke-width="1"/>
<line x1="440.44" y1="538" x2="440.44" y2="542" stroke="#000" stroke-width="1"/>
<line x1="454.48" y1="538" x2="454.48" y2="542" stroke="#000" stroke-width="1"/>
<line x1="475.37" y1="538" x2="475.37" y2="542" stroke="#000" stroke-width="1"/>
<line x1="489.41" y1="538" x2="489.41" y2="542" stroke="#000" stroke-width="1"/>
<line x1="503.45" y1="538" x2="503.45" y2="542" stroke="#000" stroke-width="1"/>
<line x1="517.49" y1="538" x2="517.49" y2="542" stroke="#000" stroke-width="1"/>
<line x1="531.53" y1="538" x2="531.53" y2="542" stroke="#000" stroke-width="1"/>
</g>
<line x1="30.8" y1="272.7" x2="35" y2="272.7" stroke="#000" stroke-width="1"/>
<text x="26.7" y="276.4" text-anchor="end" class="tk">50</text>
<line x1="30.8" y1="222.41" x2="35" y2="222.41" stroke="#000" stroke-width="1"/>
<text x="26.7" y="226.11" text-anchor="end" class="tk">60</text>
<line x1="30.8" y1="172.13" x2="35" y2="172.13" stroke="#000" stroke-width="1"/>
<text x="26.7" y="175.83" text-anchor="end" class="tk">70</text>
<line x1="30.8" y1="121.84" x2="35" y2="121.84" stroke="#000" stroke-width="1"/>
<text x="26.7" y="125.54" text-anchor="end" class="tk">80</text>
<line x1="30.8" y1="71.56" x2="35" y2="71.56" stroke="#000" stroke-width="1"/>
<text x="26.7" y="75.26" text-anchor="end" class="tk">90</text>
<line x1="549.5" y1="272.7" x2="553.7" y2="272.7" stroke="#000" stroke-width="1"/>
<text x="557.5" y="276.4" text-anchor="start" class="tk">20</text>
<line x1="549.5" y1="241.9" x2="553.7" y2="241.9" stroke="#000" stroke-width="1"/>
<text x="557.5" y="245.6" text-anchor="start" class="tk">30</text>
<line x1="549.5" y1="211.1" x2="553.7" y2="211.1" stroke="#000" stroke-width="1"/>
<text x="557.5" y="214.8" text-anchor="start" class="tk">40</text>
<line x1="549.5" y1="180.3" x2="553.7" y2="180.3" stroke="#000" stroke-width="1"/>
<text x="557.5" y="184" text-anchor="start" class="tk">50</text>
<line x1="549.5" y1="149.5" x2="553.7" y2="149.5" stroke="#000" stroke-width="1"/>
<text x="557.5" y="153.2" text-anchor="start" class="tk">60</text>
<line x1="549.5" y1="118.7" x2="553.7" y2="118.7" stroke="#000" stroke-width="1"/>
<text x="557.5" y="122.4" text-anchor="start" class="tk">70</text>
<line x1="549.5" y1="87.9" x2="553.7" y2="87.9" stroke="#000" stroke-width="1"/>
<text x="557.5" y="91.6" text-anchor="start" class="tk">80</text>
<line x1="549.5" y1="57.1" x2="553.7" y2="57.1" stroke="#000" stroke-width="1"/>
<text x="557.5" y="60.8" text-anchor="start" class="tk">90</text>
<line x1="549.5" y1="26.3" x2="553.7" y2="26.3" stroke="#000" stroke-width="1"/>
<text x="557.5" y="30" text-anchor="start" class="tk">100</text>
<line x1="30.8" y1="537.9" x2="35" y2="537.9" stroke="#000" stroke-width="1"/>
<text x="26.7" y="541.6" text-anchor="end" class="tk">10</text>
<line x1="30.8" y1="439.3" x2="35" y2="439.3" stroke="#000" stroke-width="1"/>
<text x="26.7" y="443" text-anchor="end" class="tk">20</text>
<line x1="30.8" y1="340.7" x2="35" y2="340.7" stroke="#000" stroke-width="1"/>
<text x="26.7" y="344.4" text-anchor="end" class="tk">30</text>
<line x1="549.5" y1="537.9" x2="553.7" y2="537.9" stroke="#000" stroke-width="1"/>
<text x="557.5" y="541.6" text-anchor="start" class="tk">0.0</text>
<line x1="549.5" y1="478.95" x2="553.7" y2="478.95" stroke="#000" stroke-width="1"/>
<text x="557.5" y="482.65" text-anchor="start" class="tk">0.5</text>
<line x1="549.5" y1="420" x2="553.7" y2="420" stroke="#000" stroke-width="1"/>
<text x="557.5" y="423.7" text-anchor="start" class="tk">1.0</text>
<line x1="549.5" y1="361.05" x2="553.7" y2="361.05" stroke="#000" stroke-width="1"/>
<text x="557.5" y="364.75" text-anchor="start" class="tk">1.5</text>
<line x1="549.5" y1="302.1" x2="553.7" y2="302.1" stroke="#000" stroke-width="1"/>
<text x="557.5" y="305.8" text-anchor="start" class="tk">2.0</text>
<text x="53.02" y="553.6" text-anchor="middle" class="tk">0</text>
<text x="67.06" y="553.6" text-anchor="middle" class="tk">1</text>
<text x="81.1" y="553.6" text-anchor="middle" class="tk">2</text>
<text x="95.14" y="553.6" text-anchor="middle" class="tk">3</text>
<text x="109.18" y="553.6" text-anchor="middle" class="tk">4</text>
<text x="130.12" y="553.6" text-anchor="middle" class="tk">0</text>
<text x="144.16" y="553.6" text-anchor="middle" class="tk">1</text>
<text x="158.2" y="553.6" text-anchor="middle" class="tk">2</text>
<text x="172.24" y="553.6" text-anchor="middle" class="tk">3</text>
<text x="186.28" y="553.6" text-anchor="middle" class="tk">4</text>
<text x="207.17" y="553.6" text-anchor="middle" class="tk">0</text>
<text x="221.21" y="553.6" text-anchor="middle" class="tk">1</text>
<text x="235.25" y="553.6" text-anchor="middle" class="tk">2</text>
<text x="249.29" y="553.6" text-anchor="middle" class="tk">3</text>
<text x="263.33" y="553.6" text-anchor="middle" class="tk">4</text>
<text x="321.22" y="553.6" text-anchor="middle" class="tk">0</text>
<text x="335.26" y="553.6" text-anchor="middle" class="tk">1</text>
<text x="349.3" y="553.6" text-anchor="middle" class="tk">2</text>
<text x="363.34" y="553.6" text-anchor="middle" class="tk">3</text>
<text x="377.38" y="553.6" text-anchor="middle" class="tk">4</text>
<text x="398.32" y="553.6" text-anchor="middle" class="tk">0</text>
<text x="412.36" y="553.6" text-anchor="middle" class="tk">1</text>
<text x="426.4" y="553.6" text-anchor="middle" class="tk">2</text>
<text x="440.44" y="553.6" text-anchor="middle" class="tk">3</text>
<text x="454.48" y="553.6" text-anchor="middle" class="tk">4</text>
<text x="475.37" y="553.6" text-anchor="middle" class="tk">0</text>
<text x="489.41" y="553.6" text-anchor="middle" class="tk">1</text>
<text x="503.45" y="553.6" text-anchor="middle" class="tk">2</text>
<text x="517.49" y="553.6" text-anchor="middle" class="tk">3</text>
<text x="531.53" y="553.6" text-anchor="middle" class="tk">4</text>
<text x="89.6" y="8.6" textLength="136.5" lengthAdjust="spacingAndGlyphs" class="tt">All Industry without MQ</text>
<text x="363.8" y="8.6" textLength="124.8" lengthAdjust="spacingAndGlyphs" class="tt">Mining and Quarrying</text>
<text x="14.6" y="33.5" class="pl">a</text>
<text x="294.6" y="33.5" class="pl">b</text>
<text x="14.6" y="298.8" class="pl">c</text>
<text x="294.6" y="298.6" class="pl">d</text>
<text transform="translate(8.9,222.1) rotate(-90)" x="0" y="0" textLength="145.8" lengthAdjust="spacingAndGlyphs" class="tt">Share of global gains (%)</text>
<text transform="translate(8.9,486) rotate(-90)" x="0" y="0" textLength="142" lengthAdjust="spacingAndGlyphs" class="tt">Absolute gains (bn USD)</text>
<text x="67.8" y="566.1" textLength="178.7" lengthAdjust="spacingAndGlyphs" class="tt">&#916;<tspan font-style="italic">T</tspan> (temperature change in °C)</text>
<text x="336" y="566.1" textLength="178.7" lengthAdjust="spacingAndGlyphs" class="tt">&#916;<tspan font-style="italic">T</tspan> (temperature change in °C)</text>
<rect x="47" y="303.8" width="12.45" height="12.35" fill="#c2e7db"/>
<rect x="47" y="316.1" width="12.45" height="12.55" fill="#a3dac9"/>
<rect x="47" y="328.6" width="12.45" height="12.25" fill="#85ceb7"/>
<rect x="47" y="340.8" width="12.45" height="12.15" fill="#66c2a5"/>
<rect x="59.4" y="303.8" width="12.45" height="12.35" fill="#fed1c0"/>
<rect x="59.4" y="316.1" width="12.45" height="12.55" fill="#fdbba1"/>
<rect x="59.4" y="328.6" width="12.45" height="12.25" fill="#fda481"/>
<rect x="59.4" y="340.8" width="12.45" height="12.15" fill="#fc8d62"/>
<rect x="71.8" y="303.8" width="12.45" height="12.35" fill="#d1d9ea"/>
<rect x="71.8" y="316.1" width="12.45" height="12.55" fill="#bbc6e0"/>
<rect x="71.8" y="328.6" width="12.45" height="12.25" fill="#a4b3d5"/>
<rect x="71.8" y="340.8" width="12.45" height="12.15" fill="#8da0cb"/>
<text x="86.5" y="313.55" class="lg">AI-MQ:95</text>
<text x="86.5" y="325.95" class="lg">AI-MQ:75</text>
<text x="86.5" y="338.3" class="lg">AI-MQ:50</text>
<text x="86.5" y="350.45" class="lg">USA</text>
<text x="53.2" y="362.8" text-anchor="middle" class="lg">A</text>
<text x="65.6" y="362.8" text-anchor="middle" class="lg">B</text>
<text x="78" y="362.8" text-anchor="middle" class="lg">C</text>
<rect x="315" y="303.8" width="12.45" height="12.35" fill="#c2e7db"/>
<rect x="315" y="316.1" width="12.45" height="12.55" fill="#a3dac9"/>
<rect x="315" y="328.6" width="12.45" height="12.25" fill="#85ceb7"/>
<rect x="315" y="340.8" width="12.45" height="12.15" fill="#66c2a5"/>
<rect x="327.4" y="303.8" width="12.45" height="12.35" fill="#fed1c0"/>
<rect x="327.4" y="316.1" width="12.45" height="12.55" fill="#fdbba1"/>
<rect x="327.4" y="328.6" width="12.45" height="12.25" fill="#fda481"/>
<rect x="327.4" y="340.8" width="12.45" height="12.15" fill="#fc8d62"/>
<rect x="339.8" y="303.8" width="12.45" height="12.35" fill="#d1d9ea"/>
<rect x="339.8" y="316.1" width="12.45" height="12.55" fill="#bbc6e0"/>
<rect x="339.8" y="328.6" width="12.45" height="12.25" fill="#a4b3d5"/>
<rect x="339.8" y="340.8" width="12.45" height="12.15" fill="#8da0cb"/>
<text x="354.5" y="313.55" class="lg">MQ:95</text>
<text x="354.5" y="325.95" class="lg">MQ:75</text>
<text x="354.5" y="338.3" class="lg">MQ:50+USA</text>
<text x="354.5" y="350.45" class="lg">MQ:50</text>
<text x="321.2" y="362.8" text-anchor="middle" class="lg">A</text>
<text x="333.6" y="362.8" text-anchor="middle" class="lg">B</text>
<text x="346" y="362.8" text-anchor="middle" class="lg">C</text>
</svg></body></html>
